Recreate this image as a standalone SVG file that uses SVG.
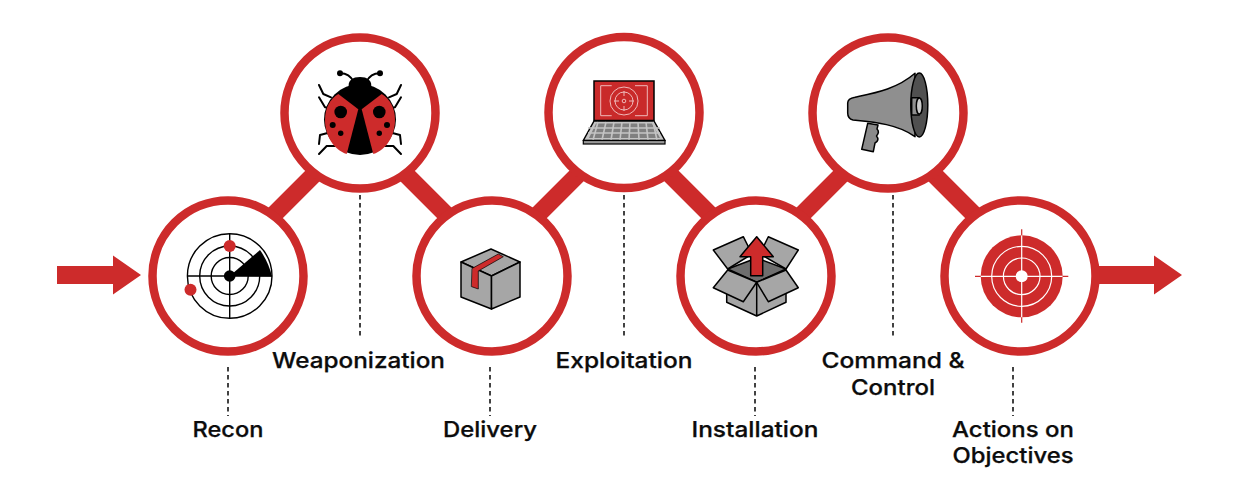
<svg xmlns="http://www.w3.org/2000/svg" width="1244" height="493" viewBox="0 0 1244 493">
<style>
text{font-family:"Inter","Liberation Sans",sans-serif;font-weight:500;font-size:21.5px;fill:#0c0c0c;stroke:#0c0c0c;stroke-width:.25;text-anchor:middle}
.ring{fill:#fff;stroke:#cd2b2b;stroke-width:8.5}
.bar{stroke:#cd2b2b;stroke-width:17.5;fill:none}
.dash{stroke:#222;stroke-width:1.7;stroke-dasharray:4.5 3.5;fill:none}
.k{stroke:#000;stroke-width:1.5;stroke-linejoin:round;stroke-linecap:round}
.thin{fill:none;stroke:#000;stroke-width:1.4}
.g{fill:#a6a6a6}
.r{fill:#cd2b2b}
.w{fill:none;stroke:#f3c9c9;stroke-width:.9}
</style>
<rect width="1244" height="493" fill="#fff"/>
<g id="connectors">
<path class="bar" d="M264 224.500L324 164.500M396 164.500L456 224.500M528 224.500L588 164.500M660 164.500L720 224.500M792 224.500L852 164.500M924 164.500L984 224.500"/>
<path class="dash" d="M228 367V416M360 195V338M490 367V416M624 195V338M755 367V416M893 195V338M1013 367V416"/>
<polygon class="r" points="57,266 113,266 113,255.500 141,275 113,294.500 113,284 57,284"/>
<polygon class="r" points="1098,266 1154,266 1154,255.500 1182,275 1154,294.500 1154,284 1098,284"/>
</g>
<g id="recon">
<circle class="ring" cx="228" cy="276" r="75.500"/>
<path d="M229.700 276L260 250Q268.500 262 272 276.500Z"/>
<g class="thin"><circle cx="229.700" cy="276" r="18.500"/><circle cx="229.700" cy="276" r="30"/><circle cx="229.700" cy="276" r="42.300"/><path d="M229.700 234V318M187.500 276H272"/></g>
<circle cx="229.700" cy="276" r="5.800"/>
<circle class="r" cx="229.700" cy="246" r="6"/>
<circle class="r" cx="190.500" cy="289.700" r="6"/>
</g>
<g id="weaponization">
<circle class="ring" cx="360" cy="113" r="75.500"/>
<g fill="none" stroke="#000" stroke-width="2" stroke-linecap="round" stroke-linejoin="round">
<path d="M340 73.300Q349 73 354 82M380 73.300Q371 73 366 82"/>
<path d="M319 85L323.300 94L331 97.300M319 97.300L325 107.300L329 108M326.700 133.300L320 135L319 144M335 146L326.700 146L319 154"/>
<path d="M401 85L396.700 94L389 97.300M401 97.300L395 107.300L391 108M393.300 133.300L400 135L401 144M385 146L393.300 146L401 154"/>
</g>
<circle cx="340" cy="73.300" r="3"/><circle cx="380" cy="73.300" r="3"/>
<ellipse cx="360" cy="119.500" rx="36" ry="35.500"/>
<path d="M338 94C342 91 346 90 349 89C347 80 353 77 360 77C367 77 373 80 371 89C374 90 378 91 382 94L360 112Z"/>
<path class="r" d="M338.300 94L358.300 109.300L346.700 154C334 150 325 136 325 120C325 108 330 99 338.300 94Z"/>
<path class="r" d="M381.700 94L361.700 109.300L373.300 154C386 150 395 136 395 120C395 108 390 99 381.700 94Z"/>
<circle cx="340.700" cy="112" r="6.300"/><circle cx="332.700" cy="125" r="3"/><circle cx="340.700" cy="133.300" r="2.700"/>
<circle cx="379.300" cy="112" r="6.300"/><circle cx="387" cy="125" r="3"/><circle cx="379.300" cy="133.300" r="2.700"/>
</g>
<g id="delivery">
<circle class="ring" cx="492" cy="276" r="75.500"/>
<path class="g k" d="M491 249L520 262L491.500 276L461 262Z"/>
<path class="g k" d="M461 262V297L491.500 309V276Z"/>
<path class="g k" d="M520 262V297L491.500 309V276Z"/>
<path class="r k" style="stroke-width:.7" d="M472.300 268.300L498.300 254L503.300 256.700L478.300 271V289L471.700 286.700Z"/>
</g>
<g id="exploitation">
<circle class="ring" cx="624" cy="112.500" r="75.500"/>
<rect x="594" y="81" width="60" height="39.500" fill="#c92a2a" stroke="#000" stroke-width="1.500"/>
<path class="w" d="M611.700 85.700H600.700V115.700H611.700M635 85.700H647.300V115.700H635"/>
<circle class="w" cx="624" cy="101" r="14"/><circle class="w" cx="624" cy="101" r="9"/><circle class="w" cx="624" cy="101" r="1.800"/>
<path class="w" d="M624 91V96M624 106V111M614 101H619M629 101H634"/>
<path d="M594 121H654L665 140.500H583.300Z" fill="#c4c4c4" stroke="#000" stroke-width="1.500" stroke-linejoin="round"/>
<path d="M596 123.500H652L660 138H589Z" fill="#808080"/>
<path d="M588 128H660M588 133H660M598 122L593 140M606 122L602 140M614 122L611 140M622 122L620 140M630 122L629 140M638 122L639 140M646 122L648 140M653 122L657 140" stroke="#c4c4c4" stroke-width="1.600" fill="none"/>
<rect x="583.300" y="140.500" width="81.700" height="3.500" fill="#999" stroke="#000" stroke-width="1.200"/>
</g>
<g id="installation">
<circle class="ring" cx="756" cy="276" r="75.500"/>
<path class="k" fill="#6e6e6e" d="M727.700 269L756.700 258L786 269L756.700 282.300Z"/>
<path class="g k" d="M727.700 269L713.300 250L743.300 236.700L752 254ZM786 269L798.300 250L768.300 236.700L760 254Z"/>
<path class="g k" d="M726.700 290V302.300L756.700 316V282.300ZM786 290V302.300L756.700 316V282.300Z"/>
<path class="g k" d="M727.700 270L713.300 287.700L743.300 301.700L756.700 282.300ZM786 270L798.300 287.700L768.300 301.700L756.700 282.300Z"/>
<path class="r k" d="M756.700 236.700L773.300 256.700H762.700V275.700H750.700V256.700H740Z"/>
</g>
<g id="command-control">
<circle class="ring" cx="888" cy="113" r="75.500"/>
<path class="k" fill="#8a8a8a" d="M867.700 123.300L861.700 149.300L873.300 151.700L875 143Q880 140 876.500 136Q880 132 877 129L878 125Z"/>
<path class="k" fill="#8f8f8f" d="M855 97.300C875 93 897 89 915 73.300L915 136.700C898 124 873 122 853 120C849 119 847.700 116 847.700 113V103C847.700 100 851 98 855 97.300Z"/>
<ellipse class="k" cx="919.300" cy="105" rx="8.500" ry="32" fill="#505050"/>
<path class="k" fill="#8f8f8f" d="M919.300 97.700H911.700V115H919.300"/>
<ellipse class="k" cx="919.300" cy="106" rx="3" ry="8" fill="#ccc"/>
</g>
<g id="actions-on-objectives">
<circle class="ring" cx="1020" cy="276" r="75.500"/>
<circle class="r" cx="1021.700" cy="276.300" r="41"/>
<g fill="none" stroke="#fff" stroke-width="1.200"><circle cx="1021.700" cy="276.300" r="30"/><circle cx="1021.700" cy="276.300" r="18.300"/><path d="M1021.700 235.300V317.300M980.700 276.300H1062.700"/></g>
<path d="M1021.700 229.300V235.300M1021.700 317.300V322.700M975 276.300H980.700M1062.700 276.300H1068.300" stroke="#cd2b2b" stroke-width="1.200"/>
<circle cx="1021.700" cy="276.300" r="6" fill="#fff"/>
</g>
<g id="labels">
<text x="228" y="436.500" textLength="71" lengthAdjust="spacingAndGlyphs">Recon</text>
<text x="358.500" y="368.300" textLength="173" lengthAdjust="spacingAndGlyphs">Weaponization</text>
<text x="490" y="436.500" textLength="94" lengthAdjust="spacingAndGlyphs">Delivery</text>
<text x="624" y="368.300" textLength="137" lengthAdjust="spacingAndGlyphs">Exploitation</text>
<text x="755" y="436.500" textLength="127" lengthAdjust="spacingAndGlyphs">Installation</text>
<text x="893" y="368.300" textLength="143" lengthAdjust="spacingAndGlyphs">Command &amp;</text>
<text x="893" y="395.300" textLength="84" lengthAdjust="spacingAndGlyphs">Control</text>
<text x="1013" y="436.500" textLength="122" lengthAdjust="spacingAndGlyphs">Actions on</text>
<text x="1013" y="463.300" textLength="121" lengthAdjust="spacingAndGlyphs">Objectives</text>
</g>
</svg>
